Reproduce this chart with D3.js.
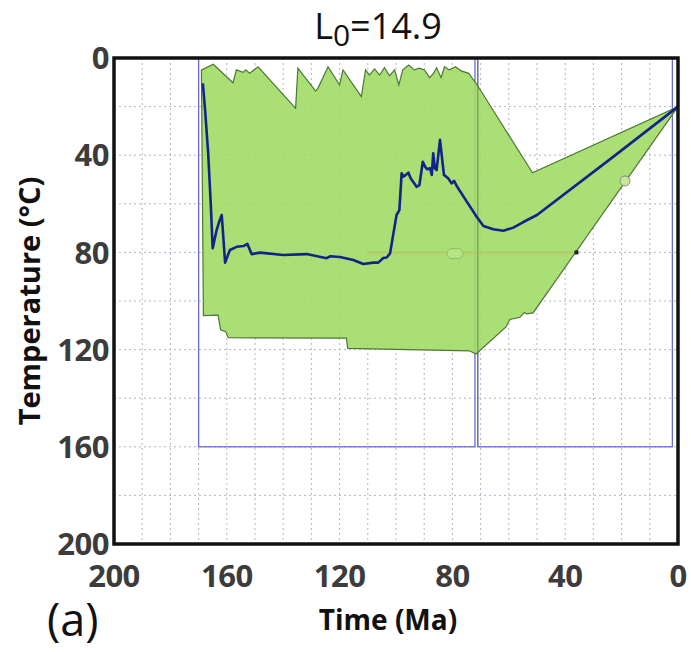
<!DOCTYPE html>
<html>
<head>
<meta charset="utf-8">
<script src="https://cdn.jsdelivr.net/npm/d3@7"></script>
<style>
  body { margin: 0; background: #fff; }
  svg { display: block; }
</style>
</head>
<body>
<div id="chart"></div>
<script>
// upper edge of the acceptable-fit envelope (time Ma, temp C)
var upperTime = [169, 164.8, 157.8, 156.6, 154.2, 153.3, 151.9, 148.9, 135.6, 134.8, 128.5, 127.7, 124.1,
  120.0, 118.8, 112.3, 110.8, 109.4, 107.6, 105.8, 104.1, 102.3, 100.5, 99.0, 97.6, 95.5, 93.5, 91.7,
  89.9, 88.1, 86.7, 85.6, 84.0, 82.8, 81.1, 78.9, 76.9, 74.2, 71.2, 51.6, 0];
var upperTemp = [5, 2.6, 10.2, 4.9, 5.9, 4.9, 6.3, 3.6, 20.7, 4.2, 13.6, 12.5, 3.6,
  11.1, 4.9, 15.9, 4.9, 7.0, 4.5, 7.0, 4.0, 7.3, 4.9, 11.1, 4.9, 2.9, 4.9, 4.2,
  4.9, 8.1, 6.3, 4.0, 8.1, 3.6, 4.9, 3.6, 5.3, 6.3, 11.1, 47.2, 20];

// lower edge of the envelope
var lowerTime = [168.3, 163.1, 162.2, 160.4, 159.5, 117.6, 117.1, 74.0, 71.6, 61.0, 59.6, 56.0, 54.6, 53.5, 51.4, 0];
var lowerTemp = [106, 105.8, 111.9, 112.6, 115.1, 115.3, 119.5, 120.5, 121.8, 110.7, 107.6, 106.7, 104.8, 105.3, 104.9, 20];

// best-fit path
var pathTime = [168.5, 167.7, 166.6, 165.7, 165.0, 163.6, 162.7, 161.8, 161.5, 160.6, 158.9, 156.5, 154.1,
  152.7, 151.2, 148.2, 140.0, 131.7, 124.6, 123.4, 119.9, 115.1, 111.6, 108.0, 106.3, 104.5, 103.3,
  102.1, 101.0, 99.8, 98.8, 98.0, 97.4, 96.5, 95.6, 94.8, 92.7, 91.7, 90.5, 89.7, 88.9, 87.9, 87.3,
  86.8, 86.2, 85.6, 84.4, 83.0, 81.5, 80.3, 79.4, 78.3, 74.9, 71.4, 69.0, 65.5, 61.9, 58.4, 55.0,
  50.0, 23.0, 0];
var pathTemp = [10.4, 21.4, 39.2, 59.8, 78.3, 70.8, 67.4, 64.6, 69.4, 84.2, 79.0, 77.7, 77.4,
  76.5, 80.7, 80.1, 81.1, 80.7, 82.4, 81.6, 81.9, 83.1, 84.8, 84.2, 84.2, 82.3, 82.1,
  80.4, 72.8, 64.6, 62.6, 47.4, 48.8, 48.1, 47.2, 49.5, 53.0, 52.3, 42.7, 44.7, 45.8, 45.4, 48.1,
  39.2, 45.4, 46.1, 33.7, 48.1, 49.5, 51.6, 50.6, 53.0, 59.1, 65.3, 69.1, 70.5, 71.1, 69.8, 67.6,
  64.6, 40.7, 20];

// constraint boxes
var boxStart = [170, 71];
var boxEnd = [72, 2];
var boxTop = [0, 0];
var boxBottom = [160, 160];

var xTicks = [200, 160, 120, 80, 40, 0];
var yTicks = [0, 40, 80, 120, 160, 200];

var width = 691, height = 652;
var margin = {top: 58, right: 13, bottom: 108, left: 114};

var x = d3.scaleLinear().domain([200, 0]).range([margin.left, width - margin.right]);
var y = d3.scaleLinear().domain([0, 200]).range([margin.top, height - margin.bottom]);

var svg = d3.select("#chart").append("svg")
    .attr("width", width)
    .attr("height", height);

// grid
svg.append("g")
  .selectAll("line")
  .data(d3.range(190, 0, -10))
  .enter()
  .append("line")
    .attr("x1", function(d){ return x(d) })
    .attr("x2", function(d){ return x(d) })
    .attr("y1", y(0))
    .attr("y2", y(200))
    .attr("stroke", "#b4b4c4")
    .attr("stroke-width", 1)
    .attr("stroke-dasharray", "2,3")

svg.append("g")
  .selectAll("line")
  .data(d3.range(20, 200, 20))
  .enter()
  .append("line")
    .attr("x1", x(200))
    .attr("x2", x(0))
    .attr("y1", function(d){ return y(d) })
    .attr("y2", function(d){ return y(d) })
    .attr("stroke", "#b4b4c4")
    .attr("stroke-width", 1)
    .attr("stroke-dasharray", "2,3")

// constraint boxes
svg.append("g")
  .selectAll("rect")
  .data(boxStart)
  .enter()
  .append("rect")
    .attr("x", function(d){ return x(d) })
    .attr("y", function(d, i){ return y(boxTop[i]) })
    .attr("width", function(d, i){ return x(boxEnd[i]) - x(d) })
    .attr("height", function(d, i){ return y(boxBottom[i]) - y(boxTop[i]) })
    .attr("fill", "none")
    .attr("stroke", "#6a6ad0")
    .attr("stroke-width", 1.3)

// envelope polygon
var envelope = [];
upperTime.forEach(function(t, i){ envelope.push([t, upperTemp[i]]) });
for (var i = lowerTime.length - 1; i >= 0; i--) envelope.push([lowerTime[i], lowerTemp[i]]);

var line = d3.line()
    .x(function(d){ return x(d[0]) })
    .y(function(d){ return y(d[1]) });

svg.append("path")
    .datum(envelope)
    .attr("d", d3.line().x(function(d){ return x(d[0]) }).y(function(d){ return y(d[1]) }).curve(d3.curveLinearClosed))
    .attr("fill", "#a0dc66")
    .attr("fill-opacity", 0.9)
    .attr("stroke", "#4f7636")
    .attr("stroke-width", 1.2)

// box edge seen through the envelope
svg.append("line")
    .attr("x1", x(71)).attr("x2", x(71))
    .attr("y1", y(0)).attr("y2", y(160))
    .attr("stroke", "#5a7a4a")
    .attr("stroke-opacity", 0.6)
    .attr("stroke-width", 1.2)

// faint constraint line at 80 C
svg.append("line")
    .attr("x1", x(110)).attr("x2", x(36))
    .attr("y1", y(80)).attr("y2", y(80))
    .attr("stroke", "#d89a50")
    .attr("stroke-opacity", 0.3)
    .attr("stroke-width", 2)

svg.append("rect")
    .attr("x", x(36) - 2).attr("y", y(80) - 2)
    .attr("width", 4).attr("height", 4)
    .attr("fill", "#222")

// handles
svg.append("rect")
    .attr("x", x(79.1) - 8).attr("y", y(80.5) - 5)
    .attr("width", 16).attr("height", 10)
    .attr("rx", 5)
    .attr("fill", "#b6e486")
    .attr("stroke", "#8fbf60")
svg.append("circle")
    .attr("cx", x(18.8)).attr("cy", y(50.6))
    .attr("r", 5)
    .attr("fill", "#c4e89a")
    .attr("stroke", "#888")

// best-fit path
var pathData = pathTime.map(function(t, i){ return [t, pathTemp[i]] });
svg.append("path")
    .datum(pathData)
    .attr("d", line)
    .attr("fill", "none")
    .attr("stroke", "#122488")
    .attr("stroke-width", 2.6)
    .attr("stroke-linejoin", "round")

// frame
svg.append("rect")
    .attr("x", x(200))
    .attr("y", y(0))
    .attr("width", x(0) - x(200))
    .attr("height", y(200) - y(0))
    .attr("fill", "none")
    .attr("stroke", "#111")
    .attr("stroke-width", 3.5)

// tick labels
svg.append("g")
  .selectAll("text")
  .data(yTicks)
  .enter()
  .append("text")
    .attr("x", margin.left - 5)
    .attr("y", function(d){ return y(d) })
    .attr("dy", "0.36em")
    .attr("text-anchor", "end")
    .attr("font-family", "Open Sans, sans-serif")
    .attr("font-weight", "bold")
    .attr("font-size", "31px")
    .attr("letter-spacing", "-0.5px")
    .attr("fill", "#3c3c3c")
    .text(function(d){ return d })

svg.append("g")
  .selectAll("text")
  .data(xTicks)
  .enter()
  .append("text")
    .attr("x", function(d){ return x(d) })
    .attr("y", 587)
    .attr("text-anchor", "middle")
    .attr("font-family", "Open Sans, sans-serif")
    .attr("font-weight", "bold")
    .attr("font-size", "31px")
    .attr("letter-spacing", "-0.5px")
    .attr("fill", "#3c3c3c")
    .text(function(d){ return d })

// axis titles
svg.append("text")
    .attr("x", 388)
    .attr("y", 630)
    .attr("text-anchor", "middle")
    .attr("font-family", "Open Sans, sans-serif")
    .attr("font-weight", "bold")
    .attr("font-size", "28px")
    .attr("fill", "#111")
    .text("Time (Ma)")

svg.append("text")
    .attr("transform", "translate(40,301) rotate(-90)")
    .attr("text-anchor", "middle")
    .attr("font-family", "Open Sans, sans-serif")
    .attr("font-weight", "bold")
    .attr("font-size", "29px")
    .attr("fill", "#111")
    .text("Temperature (°C)")

svg.append("text")
    .attr("x", 47)
    .attr("y", 636)
    .attr("font-family", "Open Sans, sans-serif")
    .attr("font-size", "45px")
    .attr("fill", "#111")
    .text("(a)")

// title
var title = svg.append("text")
    .attr("x", 378)
    .attr("y", 39)
    .attr("text-anchor", "middle")
    .attr("font-family", "Open Sans, sans-serif")
    .attr("font-size", "36px")
    .attr("fill", "#111")
title.append("tspan").text("L")
title.append("tspan").attr("dy", 7).attr("font-size", "30px").text("0")
title.append("tspan").attr("dy", -7).text("=14.9")
</script>
</body>
</html>
